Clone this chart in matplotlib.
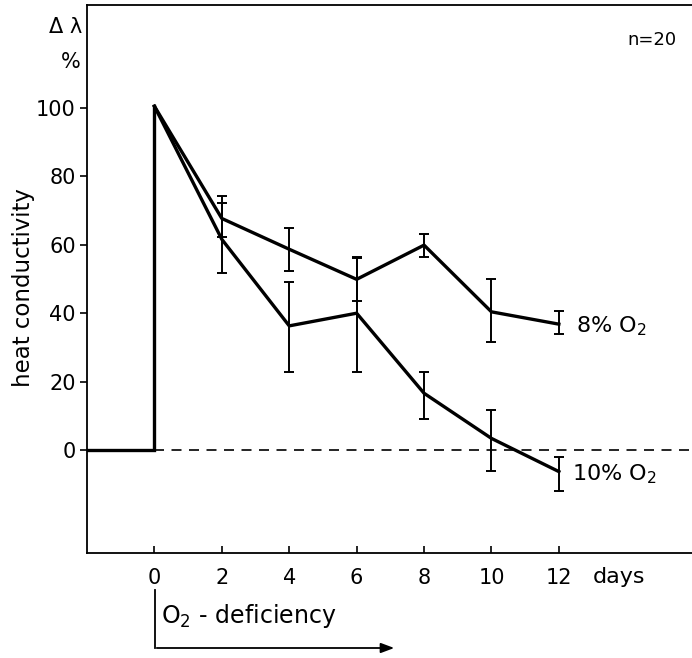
import matplotlib
matplotlib.use("Agg")
import matplotlib.pyplot as plt

days = [0, 2, 4, 6, 8, 10, 12]
o2_8 = [100.5, 67.7, 58.7, 49.9, 59.9, 40.4, 36.8]
o2_8_hi = [None, 74.3, 64.8, 56.3, 63.2, 50.0, 40.7]
o2_8_lo = [None, 62.2, 52.4, 43.7, 56.3, 31.5, 33.9]
o2_10 = [100.5, 61.6, 36.3, 40.0, 16.6, 3.4, -6.3]
o2_10_hi = [None, 72.3, 49.2, 56.0, 22.7, 11.7, -2.0]
o2_10_lo = [None, 51.8, 22.9, 22.9, 9.2, -6.0, -11.9]
baseline_x = [-2, 0, 0]
baseline_y = [0, 0, 100.5]
xticks = [0, 2, 4, 6, 8, 10, 12]
yticks = [0, 20, 40, 60, 80, 100]

plt.rcParams['font.family'] = ['DejaVu Sans']
fig = plt.figure(figsize=(6.92, 6.58), dpi=100)
ax = fig.add_axes([87/692, 1-553/658, 1-87/692, (553-5)/658])
ax.set_xlim(-2, 15.95)
ax.set_ylim(-30.1, 130.1)

lw = 2.4
ax.plot(baseline_x, baseline_y, color='black', lw=lw, solid_joinstyle='miter')
ax.plot(days, o2_8, color='black', lw=lw)
ax.plot(days, o2_10, color='black', lw=lw)
ax.axhline(0, xmin=(0+2)/(15.95+2), color='black', lw=1.2, ls=(0, (6, 4.5)))

for vals, hi, lo in [(o2_8, o2_8_hi, o2_8_lo), (o2_10, o2_10_hi, o2_10_lo)]:
    xs = [d for d, h in zip(days, hi) if h is not None]
    ys = [v for v, h in zip(vals, hi) if h is not None]
    up = [h - v for v, h in zip(vals, hi) if h is not None]
    dn = [v - l for v, l in zip(vals, lo) if l is not None]
    ax.errorbar(xs, ys, yerr=[dn, up], fmt='none', ecolor='black',
                elinewidth=1.4, capsize=3.5, capthick=1.4)

ax.spines['right'].set_visible(False)
for s in ['left', 'top', 'bottom']:
    ax.spines[s].set_linewidth(1.3)

ax.set_xticks(xticks)
ax.set_xticklabels([str(t) for t in xticks])
ax.set_yticks(yticks)
ax.set_yticklabels([str(t) for t in yticks])
ax.tick_params(axis='x', direction='in', length=5, width=1.2, labelsize=15, pad=11)
ax.tick_params(axis='y', direction='out', length=5, width=1.2, labelsize=15, pad=3)

ax.text(13.0, -38.9, 'days', fontsize=16, ha='left', va='baseline', clip_on=False)
fig.text(652/692, 1-40/658, 'n=20', fontsize=13, ha='center', va='center')
fig.text(82/692, 1-27/658, 'Δ λ', fontsize=15, ha='right', va='center')
fig.text(81/692, 1-62/658, '%', fontsize=15, ha='right', va='center')
fig.text(24/692, 1-288/658, 'heat conductivity', fontsize=16.5, rotation=90,
         ha='center', va='center')

ax.text(12.5, 36.2, '8% O$_2$', fontsize=16, ha='left', va='center')
ax.text(12.4, -7.0, '10% O$_2$', fontsize=16, ha='left', va='center')

# O2 deficiency annotation below the axis
fig.add_artist(plt.Line2D([154.5/692, 154.5/692], [1-590/658, 1-648/658],
                          color='black', lw=1.3))
ax.annotate('', xy=(397/692, 1-648/658), xytext=(154/692, 1-648/658),
            xycoords='figure fraction', textcoords='figure fraction',
            arrowprops=dict(arrowstyle='-|>,head_length=0.8,head_width=0.3',
                            color='black', lw=1.3))
fig.text(161/692, 1-623/658, 'O$_2$ - deficiency', fontsize=17, ha='left', va='baseline')

fig.savefig('out.png', dpi=100)
